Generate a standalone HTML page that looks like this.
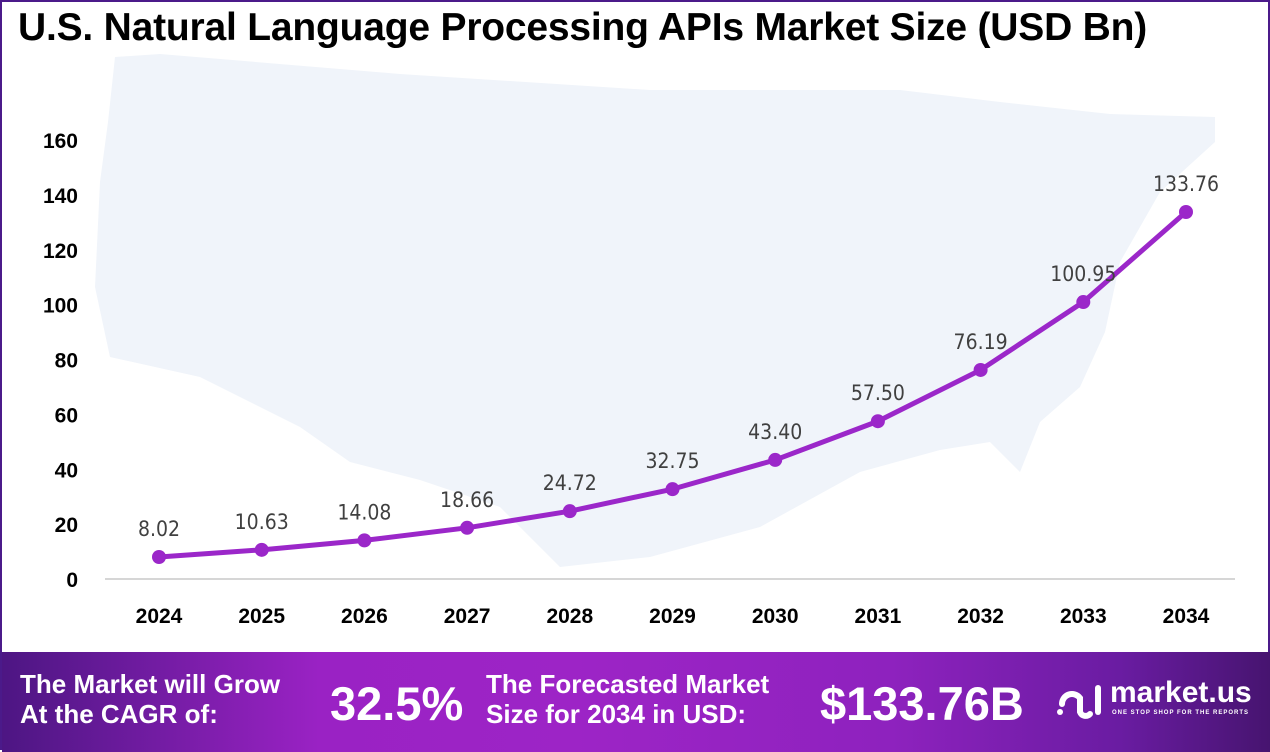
<!DOCTYPE html>
<html><head><meta charset="utf-8"><style>
body{margin:0;width:1270px;height:750px;overflow:hidden;font-family:"Liberation Sans",sans-serif;}
#wrap{position:relative;width:1270px;height:750px;background:#fff;box-sizing:border-box;border:2px solid #4b1a8a;border-bottom:none;}
#title{position:absolute;left:16px;top:4px;font-size:39px;font-weight:bold;color:#000;letter-spacing:-0.2px;white-space:nowrap;}
#banner{position:absolute;left:0;top:650px;width:1270px;height:100px;background:linear-gradient(90deg,#4d1683 0%,#9a22c4 25%,#9d24c6 45%,#8e22be 70%,#6a1ca2 88%,#46146f 100%);color:#fff;font-weight:bold;}
.bt{position:absolute;font-size:26px;line-height:30px;}
.big{position:absolute;font-size:47px;top:24px;}
</style></head><body>
<div id="wrap">
<svg id="chart" width="1270" height="650" style="position:absolute;left:-2px;top:0">
<polygon fill="#f0f4fa" points="115,55 160,52 400,72 650,88 900,88 1000,100 1110,112 1215,115 1215,140 1160,190 1120,260 1105,330 1080,385 1040,420 1020,470 990,440 940,448 860,470 760,525 650,555 560,565 500,505 420,478 350,460 300,425 200,375 110,355 95,285 100,180 108,120"/>
</svg>
<div id="title">U.S. Natural Language Processing APIs Market Size (USD Bn)</div>
<div id="banner">
<div class="bt" style="left:18px;top:17px">The Market will Grow<br>At the CAGR of:</div>
<div class="big" style="left:328px">32.5%</div>
<div class="bt" style="left:484px;top:17px">The Forecasted Market<br>Size for 2034 in USD:</div>
<div class="big" style="left:818px">$133.76B</div>
<div style="position:absolute;left:1052px;top:28px;">
<svg width="50" height="40" style="position:absolute;left:0;top:2px"><g fill="none" stroke="#fff" stroke-width="6" stroke-linecap="round"><path d="M8,22 A10,10 0 0 1 26,16 L26,30 A6,6 0 0 0 36,32"/><line x1="44" y1="6" x2="44" y2="30"/></g><circle cx="6" cy="30" r="3" fill="#fff"/></svg>
<div style="position:absolute;left:56px;top:-4px;font-size:30px;white-space:nowrap">market.us</div>
<div style="position:absolute;left:58px;top:30px;font-size:6px;letter-spacing:1px;white-space:nowrap">ONE STOP SHOP FOR THE REPORTS</div>
</div>
</div>
</div>
<script>
const years=["2024","2025","2026","2027","2028","2029","2030","2031","2032","2033","2034"];
const values=[8.02,10.63,14.08,18.66,24.72,32.75,43.40,57.50,76.19,100.95,133.76];
const labels=["8.02","10.63","14.08","18.66","24.72","32.75","43.40","57.50","76.19","100.95","133.76"];
const yTicks=[0,20,40,60,80,100,120,140,160];
const NS="http://www.w3.org/2000/svg";
const svg=document.getElementById('chart');
const x=i=>159+i*102.7;
const y=v=>577-v*(439/160);
function mk(t,a){const e=document.createElementNS(NS,t);for(const k in a)e.setAttribute(k,a[k]);svg.appendChild(e);return e;}
const ax=mk('line',{x1:105,x2:1235,y1:577,y2:577,stroke:'#c8c8c8','stroke-width':1.5});


yTicks.forEach(t=>{const e=mk('text',{x:78,y:y(t)+8,'text-anchor':'end','font-size':21,'font-weight':'bold',fill:'#000','font-family':'Liberation Sans'});e.textContent=t;

});
years.forEach((yr,i)=>{const e=mk('text',{x:x(i),y:621,'text-anchor':'middle','font-size':21,'font-weight':'bold',fill:'#000','font-family':'Liberation Sans'});e.textContent=yr;

});
const line=mk('polyline',{points:values.map((v,i)=>x(i)+','+y(v)).join(' '),fill:'none',stroke:'#9b27c9','stroke-width':5,'stroke-linejoin':'round'});


values.forEach((v,i)=>{const c=mk('circle',{cx:x(i),cy:y(v),r:7,fill:'#9b27c9'});


const t=mk('text',{x:x(i),y:y(v)-21,'text-anchor':'middle','font-size':21,fill:'#404040','font-family':'DejaVu Sans Condensed, Liberation Sans'});t.textContent=labels[i];

});
</script>
</body></html>
